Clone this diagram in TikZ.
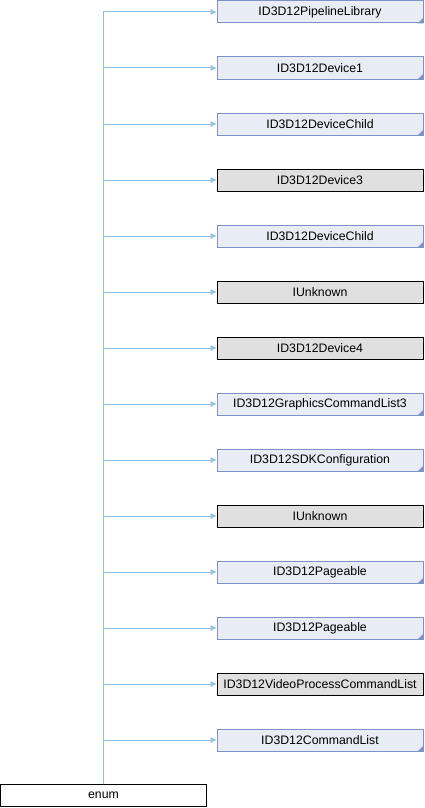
\documentclass[tikz,border=0pt]{standalone}
\usepackage{fontspec}
\setmainfont{Liberation Sans}
\usetikzlibrary{arrows.meta}

\definecolor{docfill}{RGB}{232,236,245}
\definecolor{docdraw}{RGB}{124,147,200}
\definecolor{extfill}{RGB}{224,224,224}
\definecolor{edgeblue}{RGB}{143,196,230}

\tikzset{
  docbox/.style={draw=docdraw,fill=docfill,line width=1pt,minimum width=206,minimum height=22,inner sep=0pt,font=\fontsize{12.3}{14}\selectfont},
  extbox/.style={draw=black,fill=extfill,line width=1pt,minimum width=206,minimum height=22,inner sep=0pt,font=\fontsize{12.3}{14}\selectfont},
  rootbox/.style={draw=black,fill=white,line width=1pt,minimum width=206,minimum height=22,inner sep=0pt,font=\fontsize{12.3}{14}\selectfont},
  edge/.style={draw=edgeblue,line width=1pt,-{Triangle[length=6,width=5.5]}},
  corner/.style={fill=docdraw}
}

\begin{document}
\begin{tikzpicture}[x=1pt,y=1pt,yscale=-1,xscale=1]
\useasboundingbox (0,0) rectangle (424,808);

% Text Node
\node [docbox] (lib) at (320,12) {ID3D12PipelineLibrary};
% Text Node
\node [docbox] (dev1) at (320,68) {ID3D12Device1};
% Text Node
\node [docbox] (child1) at (320,124) {ID3D12DeviceChild};
% Text Node
\node [extbox] (dev3) at (320,180) {ID3D12Device3};
% Text Node
\node [docbox] (child2) at (320,236) {ID3D12DeviceChild};
% Text Node
\node [extbox] (unk1) at (320,292) {IUnknown};
% Text Node
\node [extbox] (dev4) at (320,348) {ID3D12Device4};
% Text Node
\node [docbox] (gfx3) at (320,404) {ID3D12GraphicsCommandList3};
% Text Node
\node [docbox] (sdk) at (320,460) {ID3D12SDKConfiguration};
% Text Node
\node [extbox] (unk2) at (320,516) {IUnknown};
% Text Node
\node [docbox] (page1) at (320,572) {ID3D12Pageable};
% Text Node
\node [docbox] (page2) at (320,628) {ID3D12Pageable};
% Text Node
\node [extbox] (video) at (320,684) {ID3D12VideoProcessCommandList};
% Text Node
\node [docbox] (cmd) at (320,740) {ID3D12CommandList};
% Text Node
\node [rootbox] (enum) at (103.5,795.5) {enum};

%Shape: corner marks
\foreach \n in {lib,dev1,child1,child2,gfx3,sdk,page1,page2,cmd}
  \fill [corner] (\n.south east) -- ++(-6,0) -- ++(6,-6) -- cycle ;

%Straight Lines
\foreach \n in {lib,dev1,child1,dev3,child2,unk1,dev4,gfx3,sdk,unk2,page1,page2,video,cmd}
  \draw [edge] (enum.north) |- (\n.west) ;

\end{tikzpicture}
\end{document}
